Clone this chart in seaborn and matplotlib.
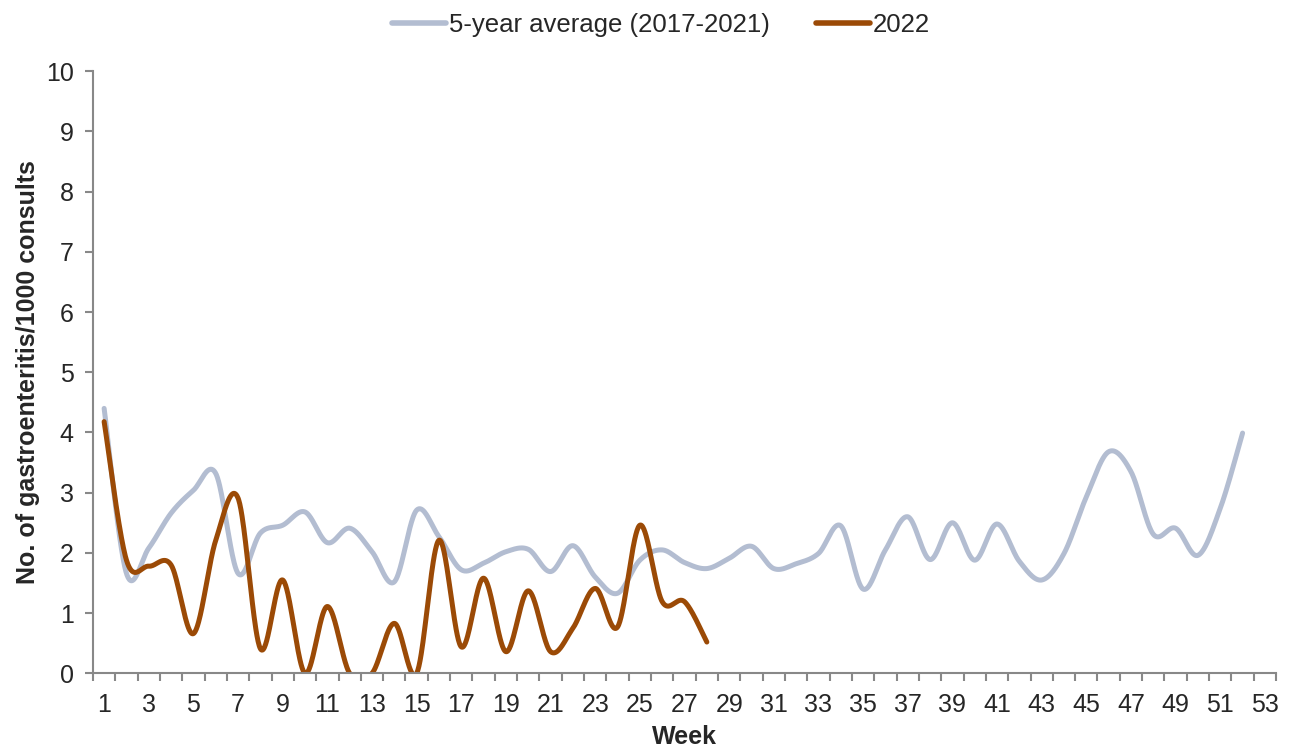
import numpy as np
import pandas as pd
import matplotlib
matplotlib.use("Agg")
import matplotlib.pyplot as plt
import seaborn as sns

# Weekly rates
weeks_avg = list(range(1, 53))
avg_5yr = [4.40, 1.66, 2.08, 2.66, 3.04, 3.32, 1.66, 2.33, 2.46, 2.68,
           2.17, 2.41, 2.02, 1.52, 2.71, 2.27, 1.72, 1.83, 2.02, 2.06,
           1.69, 2.12, 1.60, 1.33, 1.88, 2.05, 1.84, 1.74, 1.91, 2.11,
           1.74, 1.82, 1.99, 2.45, 1.40, 2.05, 2.60, 1.89, 2.50, 1.88,
           2.48, 1.86, 1.55, 1.99, 2.93, 3.68, 3.35, 2.31, 2.41, 1.96,
           2.74, 3.99]

weeks_2022 = list(range(1, 29))
rate_2022 = [4.18, 1.88, 1.78, 1.80, 0.66, 2.21, 2.91, 0.41, 1.55, 0.00,
             1.11, 0.00, 0.00, 0.83, 0.00, 2.21, 0.44, 1.58, 0.36, 1.37,
             0.36, 0.75, 1.41, 0.77, 2.46, 1.19, 1.19, 0.52]

series_names = ["5-year average (2017-2021)", "2022"]
colors = ["#b3bdd1", "#9b4a06"]


def smooth(x, y, n=40):
    # Excel-like smoothed line (Catmull-Rom as cubic bezier)
    P = np.column_stack([x, y]).astype(float)
    out = []
    t = np.linspace(0, 1, n)[:, None]
    for i in range(len(P) - 1):
        p0 = P[i - 1] if i > 0 else P[i]
        p3 = P[i + 2] if i + 2 < len(P) else P[i + 1]
        c1 = P[i] + (P[i + 1] - p0) / 6
        c2 = P[i + 1] - (p3 - P[i]) / 6
        seg = ((1 - t) ** 3) * P[i] + 3 * ((1 - t) ** 2) * t * c1 \
            + 3 * (1 - t) * t ** 2 * c2 + t ** 3 * P[i + 1]
        out.append(seg if i == 0 else seg[1:])
    out = np.vstack(out)
    return out[:, 0], out[:, 1]


sns.set_theme(style="white")
plt.rcParams['font.family'] = ['Liberation Sans', 'DejaVu Sans']

fig = plt.figure(figsize=(12.93, 7.49), dpi=100)
ax = fig.add_axes([0.0719, 0.101, 0.915, 0.804])

frames = []
for name, xs, ys in [(series_names[0], weeks_avg, avg_5yr),
                     (series_names[1], weeks_2022, rate_2022)]:
    sx, sy = smooth(xs, ys)
    frames.append(pd.DataFrame({"week": sx, "rate": sy, "series": name}))
df = pd.concat(frames, ignore_index=True)

sns.lineplot(data=df, x="week", y="rate", hue="series", palette=colors,
             hue_order=series_names, sort=False, estimator=None,
             linewidth=3.6, ax=ax, legend=False)

ax.set_xlim(0.5, 53.5)
ax.set_ylim(0, 10)
ax.set_xticks(range(1, 54, 2))
ax.set_xticks(np.arange(0.5, 54, 1), minor=True)
ax.set_yticks(range(0, 11))
ax.tick_params(axis="x", which="major", length=0, labelsize=18, pad=14)
ax.tick_params(axis="x", which="minor", length=6, width=1.5, color="#888888", direction="out", bottom=True)
ax.tick_params(axis="y", which="major", length=6, width=1.5, color="#888888", direction="out", left=True, labelsize=18, pad=8)

for side in ["top", "right"]:
    ax.spines[side].set_visible(False)
for side in ["left", "bottom"]:
    ax.spines[side].set_color("#888888")
    ax.spines[side].set_linewidth(1.5)

ax.set_xlabel("Week", fontsize=18, fontweight="bold", labelpad=6)
ax.set_ylabel("No. of gastroenteritis/1000 consults", fontsize=18, fontweight="bold", labelpad=4)

handles = [plt.Line2D([], [], color=c, linewidth=4) for c in colors]
fig.legend(handles, series_names, loc="center", bbox_to_anchor=(0.511, 0.966),
           ncol=2, frameon=False, fontsize=18.5, handlelength=2.1,
           handletextpad=0.1, columnspacing=1.8)

fig.savefig("out.png", dpi=100)
